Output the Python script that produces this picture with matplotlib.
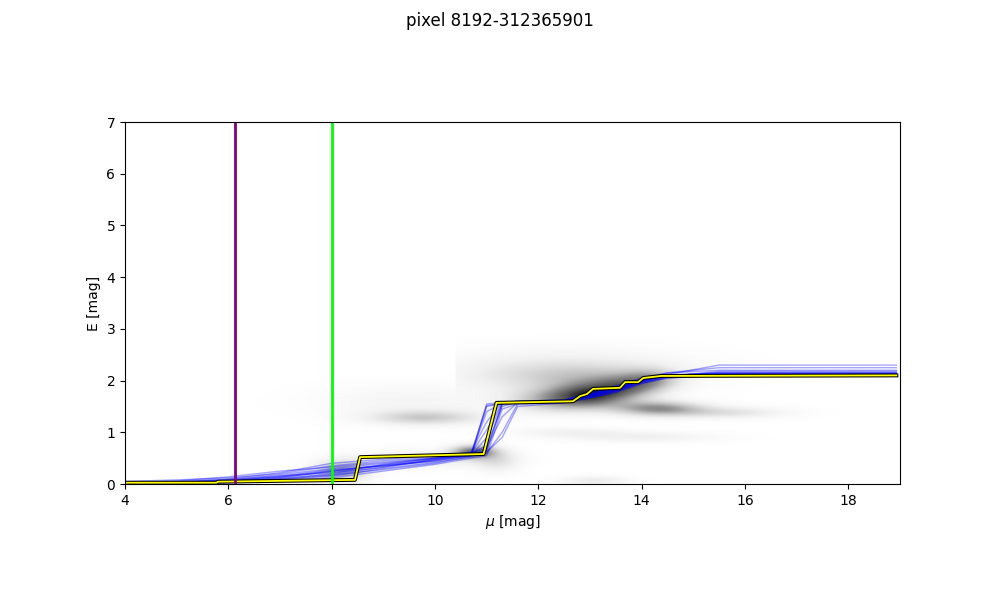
import numpy as np
import matplotlib
matplotlib.use("Agg")
import matplotlib.pyplot as plt

# ---------------- data ----------------
title = "pixel 8192-312365901"
mu_min, mu_max = 4.0, 19.0
E_min, E_max = 0.0, 7.0
x_ticks = [4, 6, 8, 10, 12, 14, 16, 18]
y_ticks = [0, 1, 2, 3, 4, 5, 6, 7]

# vertical markers
purple_mu = 6.13
green_mu = 8.0

# best-fit reddening profile
bf_mu = [4.0, 5.77, 5.8, 8.45, 8.55, 10.94, 11.19, 12.67, 12.81, 12.94, 13.06,
         13.58, 13.68, 13.93, 14.03, 14.38, 18.93]
bf_E = [0.025, 0.025, 0.045, 0.08, 0.52, 0.58, 1.57, 1.60, 1.70, 1.74, 1.84,
        1.86, 1.97, 1.97, 2.05, 2.09, 2.10]

# sample profiles (common distance grid)
smp_mu = [4, 5, 6, 7, 8, 9, 10, 10.7, 11.0, 11.3, 11.6, 12.5, 13.0, 13.5, 14.0, 14.5, 15.5, 18.93]
smp_E = [
    [0.00, 0.02, 0.05, 0.12, 0.25, 0.35, 0.45, 0.55, 0.90, 1.55, 1.57, 1.60, 1.70, 1.80, 1.97, 2.08, 2.12, 2.12],
    [0.02, 0.03, 0.08, 0.18, 0.30, 0.40, 0.50, 0.60, 1.50, 1.56, 1.58, 1.60, 1.72, 1.84, 2.00, 2.10, 2.15, 2.15],
    [0.00, 0.01, 0.03, 0.08, 0.15, 0.30, 0.42, 0.52, 0.60, 1.00, 1.55, 1.58, 1.68, 1.80, 1.96, 2.05, 2.10, 2.10],
    [0.05, 0.08, 0.12, 0.20, 0.35, 0.45, 0.52, 0.62, 1.20, 1.58, 1.60, 1.63, 1.76, 1.90, 2.05, 2.15, 2.20, 2.20],
    [0.00, 0.00, 0.02, 0.06, 0.12, 0.25, 0.38, 0.50, 0.55, 1.45, 1.55, 1.57, 1.66, 1.78, 1.94, 2.05, 2.10, 2.10],
    [0.03, 0.05, 0.10, 0.22, 0.40, 0.48, 0.55, 0.60, 0.70, 1.30, 1.58, 1.60, 1.74, 1.86, 2.02, 2.15, 2.25, 2.25],
    [0.00, 0.02, 0.06, 0.15, 0.28, 0.35, 0.44, 0.56, 1.55, 1.57, 1.60, 1.61, 1.71, 1.83, 2.00, 2.10, 2.13, 2.13],
    [0.01, 0.04, 0.09, 0.16, 0.22, 0.32, 0.47, 0.58, 0.75, 1.50, 1.58, 1.59, 1.73, 1.86, 1.99, 2.12, 2.30, 2.30],
    [0.00, 0.01, 0.04, 0.10, 0.20, 0.38, 0.50, 0.57, 1.40, 1.56, 1.60, 1.62, 1.77, 1.88, 2.02, 2.10, 2.14, 2.14],
    [0.02, 0.06, 0.14, 0.25, 0.33, 0.42, 0.50, 0.54, 0.62, 0.90, 1.50, 1.57, 1.67, 1.77, 1.95, 2.08, 2.18, 2.18],
    [0.01, 0.03, 0.07, 0.14, 0.26, 0.36, 0.46, 0.56, 0.66, 1.53, 1.57, 1.60, 1.72, 1.83, 2.01, 2.09, 2.11, 2.11],
    [0.00, 0.02, 0.05, 0.11, 0.18, 0.33, 0.48, 0.59, 1.05, 1.56, 1.59, 1.60, 1.70, 1.82, 1.99, 2.09, 2.16, 2.16],
    [0.01, 0.02, 0.04, 0.09, 0.17, 0.28, 0.40, 0.54, 1.52, 1.55, 1.57, 1.59, 1.69, 1.81, 1.98, 2.07, 2.13, 2.13],
    [0.03, 0.04, 0.07, 0.13, 0.24, 0.37, 0.49, 0.58, 0.64, 1.56, 1.58, 1.61, 1.73, 1.85, 2.01, 2.11, 2.14, 2.14],
]

# stellar density components (gaussian blobs): centre, widths, strength, left cut
blob_mu    = [12.3, 13.0, 13.7, 14.2, 14.3, 15.6, 9.8, 10.75, 11.2, 8.2, 9.8, 14.0, 12.6, 13.1, 12.5, 9.5, 12.8]
blob_E     = [1.62, 1.72, 1.86, 2.02, 1.46, 1.38, 1.28, 0.62, 0.45, 0.25, 0.48, 0.90, 1.00, 0.06, 2.25, 1.60, 2.05]
blob_smu   = [0.60, 0.50, 0.45, 0.35, 0.60, 0.80, 0.75, 0.30, 0.30, 0.35, 0.90, 1.00, 0.80, 0.45, 1.60, 1.20, 1.20]
blob_sE    = [0.16, 0.16, 0.16, 0.14, 0.10, 0.08, 0.10, 0.09, 0.15, 0.14, 0.12, 0.07, 0.07, 0.06, 0.25, 0.22, 0.18]
blob_amp   = [0.38, 0.60, 0.42, 0.28, 0.50, 0.20, 0.30, 0.60, 0.18, 0.40, 0.15, 0.12, 0.10, 0.15, 0.14, 0.08, 0.22]
blob_cut   = [4.0, 4.0, 4.0, 4.0, 4.0, 4.0, 4.0, 4.0, 4.0, 4.0, 4.0, 4.0, 4.0, 4.0, 10.39, 4.0, 10.39]

# ---------------- figure ----------------
fig = plt.figure(figsize=(10, 6), dpi=100)
ax = fig.add_axes([0.125, 0.1933, 0.775, 0.6033])

gx = np.linspace(mu_min, mu_max, 600)
gy = np.linspace(E_min, E_max, 700)
MX, EY = np.meshgrid(gx, gy)
dens = np.zeros_like(MX)
for m, e, sm, se, a, c in zip(blob_mu, blob_E, blob_smu, blob_sE, blob_amp, blob_cut):
    comp = a * np.exp(-0.5 * ((MX - m) / sm) ** 2 - 0.5 * ((EY - e) / se) ** 2)
    comp[MX < c] = 0.0
    dens += comp
ax.imshow(dens, origin="lower", extent=[mu_min, mu_max, E_min, E_max],
          cmap="Greys", vmin=0, vmax=1.0, aspect="auto", interpolation="bilinear")

for row in smp_E:
    ax.plot(smp_mu, row, color="blue", alpha=0.35, lw=1.0)

ax.plot(bf_mu, bf_E, color="black", lw=2.8)
ax.plot(bf_mu, bf_E, color="yellow", lw=1.3)

ax.axvline(purple_mu, color="purple", lw=2)
ax.axvline(green_mu, color="lime", lw=2)

ax.set_xlim(mu_min, mu_max)
ax.set_ylim(E_min, E_max)
ax.set_xticks(x_ticks)
ax.set_yticks(y_ticks)
ax.set_xlabel(r"$\mu$ [mag]")
ax.set_ylabel("E [mag]")
fig.suptitle(title)

fig.savefig("out.png", dpi=100)
